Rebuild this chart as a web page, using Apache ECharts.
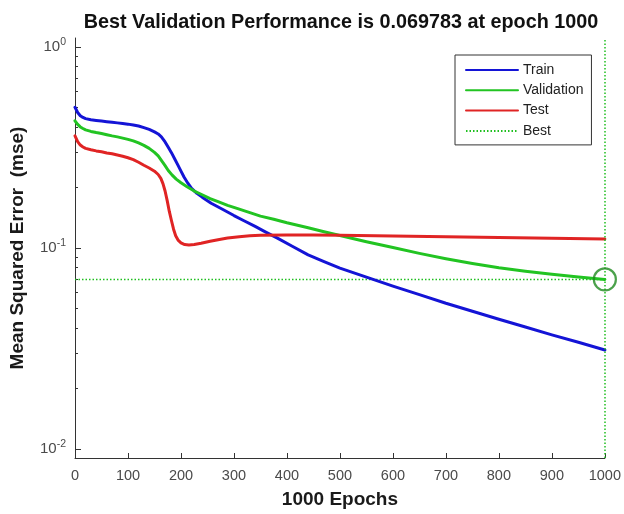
<!DOCTYPE html>
<html><head><meta charset="utf-8">
<script src="https://cdn.jsdelivr.net/npm/echarts@6/dist/echarts.min.js"></script>
<style>html,body{margin:0;padding:0;background:#fff}#c{width:624px;height:514px}</style>
</head><body><div id="c"></div>
<script>
const titleText = 'Best Validation Performance is 0.069783 at epoch 1000';
const xName = '1000 Epochs';
const yName = 'Mean Squared Error  (mse)';
const xTicks = [0, 100, 200, 300, 400, 500, 600, 700, 800, 900, 1000];
const yMajorTicks = [0.01, 0.1, 1];
const yMinorTicks = [0.02, 0.03, 0.04, 0.05, 0.06, 0.07, 0.08, 0.09, 0.2, 0.3, 0.4, 0.5, 0.6, 0.7, 0.8, 0.9];

const trainEpochs = [0, 5, 10, 15, 20, 30, 40, 50, 60, 70, 80, 90, 100, 110, 120, 130, 140, 150, 157, 163, 170, 176, 182, 188, 194, 200, 206, 213, 220, 230, 240, 257, 280, 300, 318, 340, 360, 382, 410, 440, 470, 500, 550, 600, 650, 700, 750, 800, 850, 900, 950, 1000];
const trainValues = [0.501, 0.472, 0.455, 0.446, 0.440, 0.434, 0.431, 0.428, 0.425, 0.422, 0.419, 0.416, 0.413, 0.409, 0.404, 0.397, 0.389, 0.378, 0.369, 0.357, 0.337, 0.317, 0.298, 0.278, 0.259, 0.241, 0.225, 0.210, 0.198, 0.187, 0.179, 0.167, 0.155, 0.145, 0.137, 0.128, 0.120, 0.112, 0.102, 0.0924, 0.0855, 0.0794, 0.0717, 0.0646, 0.0586, 0.0531, 0.0485, 0.0442, 0.0405, 0.0370, 0.0340, 0.0311];

const validEpochs = [0, 5, 10, 15, 20, 30, 40, 50, 60, 70, 80, 90, 100, 110, 120, 130, 140, 150, 157, 163, 170, 176, 183, 191, 200, 210, 225, 240, 255, 270, 288, 310, 330, 350, 375, 400, 440, 470, 500, 550, 600, 650, 700, 750, 800, 850, 900, 950, 1000];
const validValues = [0.429, 0.412, 0.400, 0.393, 0.387, 0.380, 0.375, 0.371, 0.366, 0.361, 0.357, 0.352, 0.347, 0.341, 0.333, 0.324, 0.313, 0.299, 0.287, 0.273, 0.257, 0.243, 0.231, 0.220, 0.211, 0.203, 0.192, 0.184, 0.176, 0.170, 0.163, 0.156, 0.150, 0.144, 0.139, 0.1335, 0.126, 0.1205, 0.1155, 0.1075, 0.1005, 0.0940, 0.0885, 0.0838, 0.0797, 0.0766, 0.0740, 0.0718, 0.069783];

const testEpochs = [0, 5, 10, 15, 20, 30, 40, 50, 60, 70, 80, 90, 100, 110, 120, 130, 140, 150, 157, 162, 166, 170, 174, 178, 182, 186, 190, 195, 200, 207, 215, 225, 238, 255, 270, 288, 310, 330, 350, 400, 450, 500, 600, 700, 800, 900, 1000];
const testValues = [0.361, 0.338, 0.325, 0.318, 0.313, 0.308, 0.304, 0.301, 0.297, 0.294, 0.290, 0.286, 0.281, 0.275, 0.267, 0.258, 0.250, 0.241, 0.232, 0.222, 0.209, 0.192, 0.172, 0.152, 0.137, 0.124, 0.115, 0.109, 0.106, 0.104, 0.1035, 0.104, 0.1055, 0.108, 0.110, 0.112, 0.1138, 0.115, 0.1158, 0.1162, 0.1160, 0.1157, 0.1148, 0.1138, 0.1128, 0.1118, 0.1110];

const bestEpoch = 1000;
const bestValue = 0.069783;
const seriesNames = ['Train', 'Validation', 'Test', 'Best'];

const FONT = "'Liberation Sans', Arial, Helvetica, sans-serif";
const C_TRAIN = '#1414d6', C_VALID = '#22c422', C_TEST = '#e02424', C_BEST = '#1fbf1f', C_CIRCLE = '#1e8a1e';
const Y_MIN = Math.pow(10, -2 - 9 / 203), Y_MAX = Math.pow(10, 9 / 203);
const BEST_DASH = [1.5, 2];

function zip(xs, ys) { return xs.map((x, i) => [x, ys[i]]); }
function lineSeries(name, xs, ys, color) {
  return {
    name, type: 'line', data: zip(xs, ys), showSymbol: false, symbol: 'none',
    smooth: false,
    lineStyle: { color, width: 3, cap: 'round', join: 'round' }, itemStyle: { color }, z: 3
  };
}
function supLabel(v) {
  const e = Math.round(Math.log10(v));
  return '{b|10}{s|' + e + '}';
}
const labelRich = {
  b: { fontSize: 15, color: '#4a4a4a', fontFamily: FONT, lineHeight: 20, verticalAlign: 'middle' },
  s: { fontSize: 10.5, color: '#4a4a4a', fontFamily: FONT, lineHeight: 10, verticalAlign: 'top' }
};

const chart = echarts.init(document.getElementById('c'), null, { renderer: 'canvas' });
chart.setOption({
  animation: false,
  backgroundColor: '#fff',
  title: {
    text: titleText, left: 336, top: 8, textAlign: 'center',
    textStyle: { fontFamily: FONT, fontWeight: 'bold', fontSize: 19.8, color: '#111' }
  },
  grid: { left: 73, right: 17, top: 38, bottom: 52, containLabel: false },
  legend: {
    orient: 'vertical', left: 455, top: 55,
    data: seriesNames,
    itemWidth: 52, itemHeight: 14, itemGap: 6.3,
    padding: [8, 8, 7, 10],
    borderColor: '#333', borderWidth: 1, backgroundColor: '#fff',
    itemStyle: { opacity: 0 },
    textStyle: { fontFamily: FONT, fontSize: 14, color: '#222' }
  },
  xAxis: {
    type: 'value', min: xTicks[0], max: xTicks[xTicks.length - 1], interval: 100,
    name: xName, nameLocation: 'middle', nameGap: 32,
    nameTextStyle: { fontFamily: FONT, fontWeight: 'bold', fontSize: 19, color: '#1a1a1a' },
    axisLine: { show: true, lineStyle: { color: '#333', width: 1 } },
    axisTick: { show: true, inside: true, length: 5, lineStyle: { color: '#333' } },
    axisLabel: { fontFamily: FONT, fontSize: 14.5, color: '#4a4a4a', margin: 10, formatter: v => String(v) },
    splitLine: { show: false }
  },
  yAxis: [{
    type: 'log', logBase: 10, min: Y_MIN, max: Y_MAX, position: 'left',
    name: yName, nameLocation: 'middle', nameGap: 48,
    nameTextStyle: { fontFamily: FONT, fontWeight: 'bold', fontSize: 19, color: '#1a1a1a' },
    axisLine: { show: true, lineStyle: { color: '#333', width: 1 } },
    axisTick: { show: true, inside: true, length: 6, customValues: yMajorTicks, lineStyle: { color: '#333' } },
    axisLabel: { customValues: yMajorTicks, formatter: supLabel, rich: labelRich, margin: 9 },
    splitLine: { show: false }
  }, {
    type: 'log', logBase: 10, min: Y_MIN, max: Y_MAX, position: 'left',
    axisLine: { show: false },
    axisTick: { show: true, inside: true, length: 3, customValues: yMinorTicks, lineStyle: { color: '#333' } },
    axisLabel: { show: false },
    splitLine: { show: false }
  }],
  series: [
    lineSeries('Train', trainEpochs, trainValues, C_TRAIN),
    lineSeries('Validation', validEpochs, validValues, C_VALID),
    lineSeries('Test', testEpochs, testValues, C_TEST),
    {
      name: 'Best', type: 'line', data: [[xTicks[0], bestValue], [bestEpoch, bestValue]],
      showSymbol: false, symbol: 'none', z: 2,
      lineStyle: { color: C_BEST, width: 1.5, type: BEST_DASH }, itemStyle: { color: C_BEST },
      markLine: {
        silent: true, symbol: ['none', 'none'], label: { show: false },
        lineStyle: { color: C_BEST, width: 1.5, type: BEST_DASH },
        data: [{ xAxis: bestEpoch }]
      }
    },
    {
      name: 'bestCircle', type: 'scatter', data: [[bestEpoch, bestValue]], clip: false,
      symbol: 'circle', symbolSize: 22, z: 5, silent: true,
      itemStyle: { color: 'rgba(0,0,0,0)', borderColor: C_CIRCLE, borderWidth: 2.2 }
    }
  ]
});
</script></body></html>
